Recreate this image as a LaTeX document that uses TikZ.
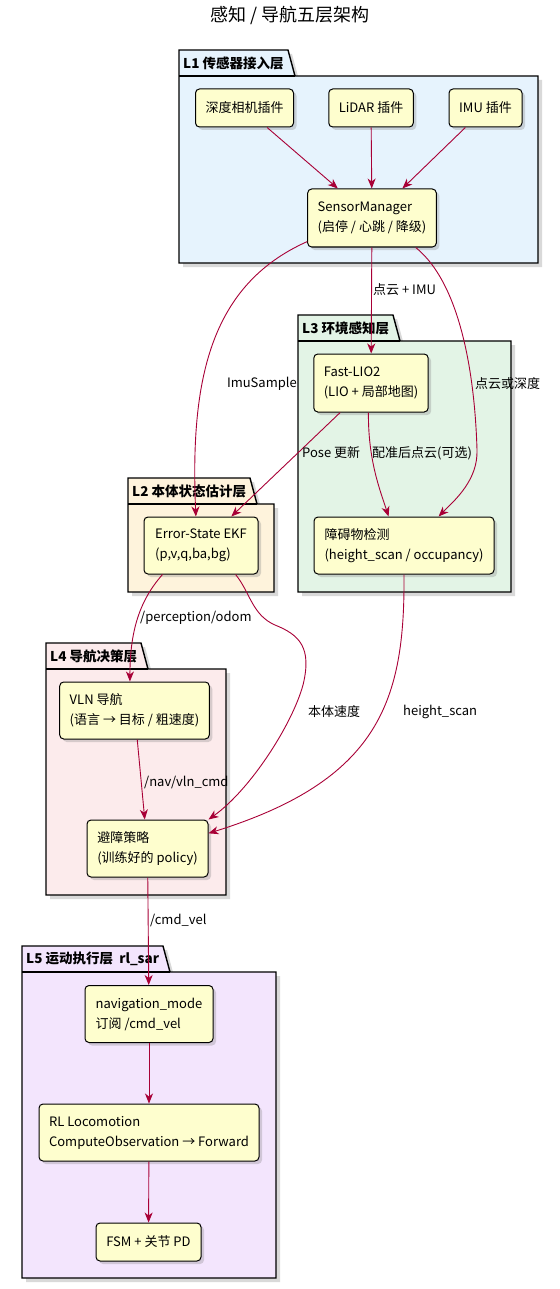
\documentclass[tikz,border=0pt]{standalone}
\usepackage{fontspec}
\setmainfont{Noto Sans CJK SC}
\usetikzlibrary{arrows.meta, shadows}
\definecolor{nodefill}{HTML}{FEFECE}
\definecolor{edgecol}{HTML}{A80036}
\definecolor{lone}{HTML}{E6F3FD}
\definecolor{ltwo}{HTML}{FEF3DC}
\definecolor{lthree}{HTML}{E3F4E6}
\definecolor{lfour}{HTML}{FCEBEC}
\definecolor{lfive}{HTML}{F3E5FD}
\tikzstyle{comp} = [draw, rounded corners=4pt, fill=nodefill, line width=1pt, font=\fontsize{13}{20}\selectfont, align=left, inner xsep=10pt, inner ysep=4pt, minimum height=57pt, drop shadow={shadow xshift=3pt, shadow yshift=-3pt, opacity=0.3}]
\tikzstyle{flow} = [draw=edgecol, line width=0.9pt, -{Stealth[length=10pt, width=8pt, inset=3pt]}]
\tikzstyle{lbl} = [font=\fontsize{13}{16}\selectfont, inner sep=0pt]
\tikzstyle{ttl} = [font=\bfseries\fontsize{13.5}{16}\selectfont, inner sep=0pt]
\tikzstyle{layer} = [draw, line width=1.4pt, drop shadow={shadow xshift=4pt, shadow yshift=-4pt, opacity=0.3}]
\newcommand{\drawlayer}[9]{%
  \path[layer, fill=#1] (#2,#3) -- (#4-7,#3) -- (#4,#5) -- (#6,#5) -- (#6,#7) -- (#2,#7) -- cycle;
  \draw[line width=1.4pt] (#2,#5) -- (#4,#5);
  \node[ttl, anchor=west] (#9) at (#2+4,{(#3+#5)/2}) {#8};
}

\begin{document}
\begin{tikzpicture}[x=1pt, y=-1pt]
  \useasboundingbox (0,0) rectangle (559,1289);
  \node[font=\fontsize{18}{20}\selectfont] (title) at (290,15) {感知 / 导航五层架构};

  \drawlayer{lone}{179}{50}{295}{76}{538}{263}{L1 传感器接入层}{lonettl}
  \drawlayer{lthree}{298}{315}{400}{341}{511}{592}{L3 环境感知层}{lthreettl}
  \drawlayer{ltwo}{128}{478}{257}{504}{274}{592}{L2 本体状态估计层}{ltwottl}
  \drawlayer{lfour}{46}{643}{148}{669}{226}{895}{L4 导航决策层}{lfourttl}
  \drawlayer{lfive}{22}{946}{170}{972}{276}{1278}{L5 运动执行层\ \ rl\_sar}{lfivettl}

  \node[comp, minimum width=97pt, minimum height=38pt] (dcam) at (244.5,108) {深度相机插件};
  \node[comp, minimum width=84pt, minimum height=38pt] (lidar) at (371,108) {LiDAR 插件};
  \node[comp, minimum width=73pt, minimum height=38pt] (imu) at (485.5,108) {IMU 插件};
  \node[comp, minimum width=128pt, minimum height=58pt] (sm) at (372,218) {SensorManager\\(启停 / 心跳 / 降级)};
  \node[comp, minimum width=114pt, minimum height=58pt] (lio) at (371,383) {Fast-LIO2\\(LIO + 局部地图)};
  \node[comp, minimum width=180pt] (obs) at (404,545.5) {障碍物检测\\(height\_scan / occupancy)};
  \node[comp, minimum width=114pt] (ekf) at (201,545.5) {Error-State EKF\\(p,v,q,ba,bg)};
  \node[comp, minimum width=149pt] (vln) at (134.5,710.5) {VLN 导航\\(语言 → 目标 / 粗速度)};
  \node[comp, minimum width=121pt] (avoid) at (147.5,848.5) {避障策略\\(训练好的 policy)};
  \node[comp, minimum width=128pt] (navm) at (149,1014) {navigation\_mode\\订阅 /cmd\_vel};
  \node[comp, minimum width=220pt] (rl) at (149,1132.5) {RL Locomotion\\ComputeObservation → Forward};
  \node[comp, minimum width=105pt, minimum height=38pt] (fsm) at (148.5,1242) {FSM + 关节 PD};

  \draw[flow] (dcam) -- (sm);
  \draw[flow] (lidar) -- (sm);
  \draw[flow] (imu) -- (sm);
  \draw[flow] (sm) -- (lio);
  \draw[flow] (sm.200) .. controls (210,285) and (190,380) .. (ekf.100);
  \draw[flow] (sm.326) .. controls (462,285) and (475,380) .. (477,450) .. controls (478,480) and (455,500) .. (obs.40);
  \draw[flow] (lio) -- (ekf);
  \draw[flow] (lio.-95) .. controls (368,460) and (380,490) .. (obs.118);
  \draw[flow] (ekf.217) .. controls (140,600) and (130,630) .. (vln.99);
  \draw[flow] (ekf.320) .. controls (250,592) and (252,615) .. (275,625) .. controls (300,635) and (312,648) .. (303,685) .. controls (292,725) and (250,790) .. (avoid.north east);
  \draw[flow] (obs.south) .. controls (405,700) and (380,780) .. (avoid.14);
  \draw[flow] (vln) -- (avoid);
  \draw[flow] (avoid) -- (navm);
  \draw[flow] (navm) -- (rl);
  \draw[flow] (rl) -- (fsm);

  \node[lbl, anchor=west] (l1) at (373,290) {点云 + IMU};
  \node[lbl, anchor=east] (l2) at (297,384) {ImuSample};
  \node[lbl, anchor=west] (l3) at (475,384) {点云或深度};
  \node[lbl, anchor=west] (l4) at (302,453) {Pose 更新};
  \node[lbl, anchor=west] (l5) at (372,453) {配准后点云(可选)};
  \node[lbl, anchor=west] (l6) at (140,618) {/perception/odom};
  \node[lbl, anchor=west] (l7) at (308,712) {本体速度};
  \node[lbl, anchor=west] (l8) at (403,712) {height\_scan};
  \node[lbl, anchor=west] (l9) at (144,782) {/nav/vln\_cmd};
  \node[lbl, anchor=west] (l10) at (150,920) {/cmd\_vel};
\end{tikzpicture}
\end{document}
